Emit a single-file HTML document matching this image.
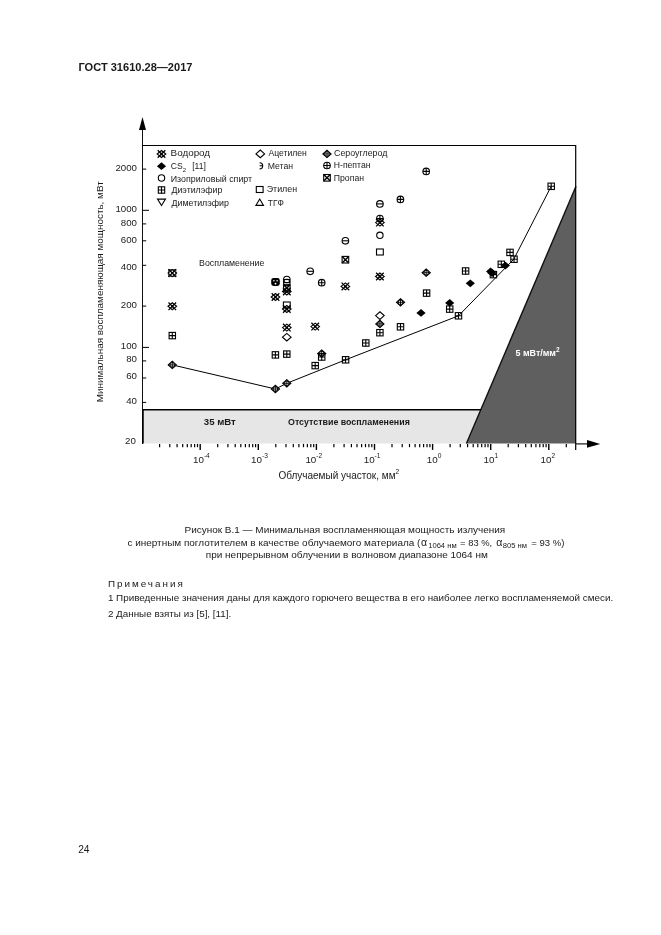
<!DOCTYPE html>
<html lang="ru"><head><meta charset="utf-8"><title>ГОСТ 31610.28—2017</title>
<style>
html,body{margin:0;padding:0;background:#fff}
body{width:661px;height:935px;overflow:hidden;position:relative;font-family:"Liberation Sans",sans-serif;color:#1a1a1a}
svg{position:absolute;left:0;top:0;display:block}
svg text{font-family:"Liberation Sans",sans-serif;fill:#1a1a1a}
.t{font-size:9.7px}
.lg{font-size:8.75px}
.bd{font-size:9.97px}
.nt{font-size:9.85px}
</style></head><body>
<svg width="661" height="935" viewBox="0 0 661 935">
<text x="78.5" y="70.6" font-size="11.05" font-weight="bold" fill="#111">ГОСТ 31610.28—2017</text>
<rect x="143" y="410" width="340" height="33.5" fill="#e6e6e6"/>
<path d="M466.4 443.5L576 186.3L576 443.5Z" fill="#5f5f5f"/>
<path d="M466.4 443.5L576 186.3" stroke="#111" stroke-width="1.4" fill="none"/>
<path d="M142 409.8L481 409.8" stroke="#000" stroke-width="1.6" fill="none"/>
<path d="M142.5 130L142.5 444" stroke="#111" stroke-width="1" fill="none"/>
<path d="M142.9 409L142.9 443.6" stroke="#000" stroke-width="1.7" fill="none"/>
<path d="M142.5 117L139 130L146 130Z" fill="#000"/>
<path d="M142.5 145.5L575.7 145.5L575.7 450" stroke="#000" stroke-width="1.2" fill="none"/>
<path d="M576 443.9L588 443.9" stroke="#000" stroke-width="1.1" fill="none"/>
<path d="M600.2 443.9L587 440L587 447.8Z" fill="#000"/>
<path d="M142.5 169.1L146.2 169.1" stroke="#000" stroke-width="1" fill="none"/><text class="t" x="137" y="170.6" text-anchor="end">2000</text>
<path d="M142.5 210.3L149 210.3" stroke="#000" stroke-width="1" fill="none"/><text class="t" x="137" y="212.3" text-anchor="end">1000</text>
<path d="M142.5 223.9L146.2 223.9" stroke="#000" stroke-width="1" fill="none"/><text class="t" x="137" y="226.3" text-anchor="end">800</text>
<path d="M142.5 240.8L146.2 240.8" stroke="#000" stroke-width="1" fill="none"/><text class="t" x="137" y="242.5" text-anchor="end">600</text>
<path d="M142.5 265.3L146.2 265.3" stroke="#000" stroke-width="1" fill="none"/><text class="t" x="137" y="269.6" text-anchor="end">400</text>
<path d="M142.5 306.1L146.2 306.1" stroke="#000" stroke-width="1" fill="none"/><text class="t" x="137" y="307.5" text-anchor="end">200</text>
<path d="M142.5 347.4L149 347.4" stroke="#000" stroke-width="1" fill="none"/><text class="t" x="137" y="348.6" text-anchor="end">100</text>
<path d="M142.5 360.9L146.2 360.9" stroke="#000" stroke-width="1" fill="none"/><text class="t" x="137" y="362.4" text-anchor="end">80</text>
<path d="M142.5 378.0L146.2 378.0" stroke="#000" stroke-width="1" fill="none"/><text class="t" x="137" y="379.3" text-anchor="end">60</text>
<path d="M142.5 402.4L146.2 402.4" stroke="#000" stroke-width="1" fill="none"/><text class="t" x="137" y="403.6" text-anchor="end">40</text>
<text class="t" x="135.9" y="444.3" text-anchor="end">20</text>
<path d="M159.6 443.9L159.6 447.2" stroke="#000" stroke-width="1.2" fill="none"/><path d="M169.8 443.9L169.8 447.2" stroke="#000" stroke-width="1.2" fill="none"/><path d="M177.1 443.9L177.1 447.2" stroke="#000" stroke-width="1.2" fill="none"/><path d="M182.7 443.9L182.7 447.2" stroke="#000" stroke-width="1.2" fill="none"/><path d="M187.3 443.9L187.3 447.2" stroke="#000" stroke-width="1.2" fill="none"/><path d="M191.2 443.9L191.2 447.2" stroke="#000" stroke-width="1.2" fill="none"/><path d="M194.6 443.9L194.6 447.2" stroke="#000" stroke-width="1.2" fill="none"/><path d="M197.5 443.9L197.5 447.2" stroke="#000" stroke-width="1.2" fill="none"/><path d="M200.2 443.9L200.2 449.9" stroke="#000" stroke-width="1.4" fill="none"/><path d="M217.7 443.9L217.7 447.2" stroke="#000" stroke-width="1.2" fill="none"/><path d="M227.9 443.9L227.9 447.2" stroke="#000" stroke-width="1.2" fill="none"/><path d="M235.2 443.9L235.2 447.2" stroke="#000" stroke-width="1.2" fill="none"/><path d="M240.8 443.9L240.8 447.2" stroke="#000" stroke-width="1.2" fill="none"/><path d="M245.4 443.9L245.4 447.2" stroke="#000" stroke-width="1.2" fill="none"/><path d="M249.3 443.9L249.3 447.2" stroke="#000" stroke-width="1.2" fill="none"/><path d="M252.7 443.9L252.7 447.2" stroke="#000" stroke-width="1.2" fill="none"/><path d="M255.6 443.9L255.6 447.2" stroke="#000" stroke-width="1.2" fill="none"/><path d="M258.3 443.9L258.3 449.9" stroke="#000" stroke-width="1.4" fill="none"/><path d="M275.8 443.9L275.8 447.2" stroke="#000" stroke-width="1.2" fill="none"/><path d="M286.0 443.9L286.0 447.2" stroke="#000" stroke-width="1.2" fill="none"/><path d="M293.3 443.9L293.3 447.2" stroke="#000" stroke-width="1.2" fill="none"/><path d="M298.9 443.9L298.9 447.2" stroke="#000" stroke-width="1.2" fill="none"/><path d="M303.5 443.9L303.5 447.2" stroke="#000" stroke-width="1.2" fill="none"/><path d="M307.4 443.9L307.4 447.2" stroke="#000" stroke-width="1.2" fill="none"/><path d="M310.8 443.9L310.8 447.2" stroke="#000" stroke-width="1.2" fill="none"/><path d="M313.7 443.9L313.7 447.2" stroke="#000" stroke-width="1.2" fill="none"/><path d="M316.4 443.9L316.4 449.9" stroke="#000" stroke-width="1.4" fill="none"/><path d="M333.9 443.9L333.9 447.2" stroke="#000" stroke-width="1.2" fill="none"/><path d="M344.1 443.9L344.1 447.2" stroke="#000" stroke-width="1.2" fill="none"/><path d="M351.4 443.9L351.4 447.2" stroke="#000" stroke-width="1.2" fill="none"/><path d="M357.0 443.9L357.0 447.2" stroke="#000" stroke-width="1.2" fill="none"/><path d="M361.6 443.9L361.6 447.2" stroke="#000" stroke-width="1.2" fill="none"/><path d="M365.5 443.9L365.5 447.2" stroke="#000" stroke-width="1.2" fill="none"/><path d="M368.9 443.9L368.9 447.2" stroke="#000" stroke-width="1.2" fill="none"/><path d="M371.8 443.9L371.8 447.2" stroke="#000" stroke-width="1.2" fill="none"/><path d="M374.5 443.9L374.5 449.9" stroke="#000" stroke-width="1.4" fill="none"/><path d="M392.0 443.9L392.0 447.2" stroke="#000" stroke-width="1.2" fill="none"/><path d="M402.2 443.9L402.2 447.2" stroke="#000" stroke-width="1.2" fill="none"/><path d="M409.5 443.9L409.5 447.2" stroke="#000" stroke-width="1.2" fill="none"/><path d="M415.1 443.9L415.1 447.2" stroke="#000" stroke-width="1.2" fill="none"/><path d="M419.7 443.9L419.7 447.2" stroke="#000" stroke-width="1.2" fill="none"/><path d="M423.6 443.9L423.6 447.2" stroke="#000" stroke-width="1.2" fill="none"/><path d="M427.0 443.9L427.0 447.2" stroke="#000" stroke-width="1.2" fill="none"/><path d="M429.9 443.9L429.9 447.2" stroke="#000" stroke-width="1.2" fill="none"/><path d="M432.6 443.9L432.6 449.9" stroke="#000" stroke-width="1.4" fill="none"/><path d="M450.1 443.9L450.1 447.2" stroke="#000" stroke-width="1.2" fill="none"/><path d="M460.3 443.9L460.3 447.2" stroke="#000" stroke-width="1.2" fill="none"/><path d="M467.6 443.9L467.6 447.2" stroke="#000" stroke-width="1.2" fill="none"/><path d="M473.2 443.9L473.2 447.2" stroke="#000" stroke-width="1.2" fill="none"/><path d="M477.8 443.9L477.8 447.2" stroke="#000" stroke-width="1.2" fill="none"/><path d="M481.7 443.9L481.7 447.2" stroke="#000" stroke-width="1.2" fill="none"/><path d="M485.1 443.9L485.1 447.2" stroke="#000" stroke-width="1.2" fill="none"/><path d="M488.0 443.9L488.0 447.2" stroke="#000" stroke-width="1.2" fill="none"/><path d="M490.7 443.9L490.7 449.9" stroke="#000" stroke-width="1.4" fill="none"/><path d="M508.2 443.9L508.2 447.2" stroke="#000" stroke-width="1.2" fill="none"/><path d="M518.4 443.9L518.4 447.2" stroke="#000" stroke-width="1.2" fill="none"/><path d="M525.7 443.9L525.7 447.2" stroke="#000" stroke-width="1.2" fill="none"/><path d="M531.3 443.9L531.3 447.2" stroke="#000" stroke-width="1.2" fill="none"/><path d="M535.9 443.9L535.9 447.2" stroke="#000" stroke-width="1.2" fill="none"/><path d="M539.8 443.9L539.8 447.2" stroke="#000" stroke-width="1.2" fill="none"/><path d="M543.2 443.9L543.2 447.2" stroke="#000" stroke-width="1.2" fill="none"/><path d="M546.1 443.9L546.1 447.2" stroke="#000" stroke-width="1.2" fill="none"/><path d="M548.8 443.9L548.8 449.9" stroke="#000" stroke-width="1.4" fill="none"/><path d="M566.3 443.9L566.3 447.2" stroke="#000" stroke-width="1.2" fill="none"/>
<text x="201.4" y="463.1" font-size="9.8" text-anchor="middle">10<tspan font-size="6.6" dy="-4.9">-4</tspan></text>
<text x="259.5" y="463.1" font-size="9.8" text-anchor="middle">10<tspan font-size="6.6" dy="-4.9">-3</tspan></text>
<text x="313.8" y="463.1" font-size="9.8" text-anchor="middle">10<tspan font-size="6.6" dy="-4.9">-2</tspan></text>
<text x="372.1" y="463.1" font-size="9.8" text-anchor="middle">10<tspan font-size="6.6" dy="-4.9">-1</tspan></text>
<text x="434.1" y="463.1" font-size="9.8" text-anchor="middle">10<tspan font-size="6.6" dy="-4.9">0</tspan></text>
<text x="490.9" y="463.1" font-size="9.8" text-anchor="middle">10<tspan font-size="6.6" dy="-4.9">1</tspan></text>
<text x="547.8" y="463.1" font-size="9.8" text-anchor="middle">10<tspan font-size="6.6" dy="-4.9">2</tspan></text>
<text x="338.8" y="478.8" font-size="10" text-anchor="middle">Облучаемый участок, мм<tspan font-size="6.6" dy="-4.8">2</tspan></text>
<text transform="translate(102.5 402.3) rotate(-90)" font-size="9.92">Минимальная воспламеняющая мощность, мВт</text>
<text x="199.1" y="266" font-size="8.8">Воспламенение</text>
<text x="203.8" y="424.5" font-size="9.6" font-weight="bold" fill="#111">35 мВт</text>
<text x="288" y="424.5" font-size="8.85" font-weight="bold" fill="#111">Отсутствие воспламенения</text>
<text x="515.5" y="356" font-size="8.95" font-weight="bold" style="fill:#fff">5 мВт/мм<tspan font-size="6.5" dy="-4">2</tspan></text>
<path d="M172.3 364.9L275.4 389L286.8 383.3L345.6 359.8L458.5 315.8L513.8 259.2L551.2 186.3" stroke="#000" stroke-width="1" fill="none"/>
<path d="M168.5 269.3L176.1 276.9M168.5 276.9L176.1 269.3" stroke="#000" stroke-width="1.25" fill="none"/><path d="M168.0 273.1L172.3 269.6L176.6 273.1L172.3 276.6Z" stroke="#000" stroke-width="1.1" fill="none"/><circle cx="172.3" cy="273.1" r="1.2" fill="#000"/>
<rect x="168.7" y="269.5" width="7.2" height="7.2" stroke="#000" stroke-width="0.7" fill="none"/>
<path d="M168.5 302.5L176.1 310.1M168.5 310.1L176.1 302.5" stroke="#000" stroke-width="1.25" fill="none"/><path d="M168.0 306.3L172.3 302.8L176.6 306.3L172.3 309.8Z" stroke="#000" stroke-width="1.1" fill="none"/><circle cx="172.3" cy="306.3" r="1.2" fill="#000"/>
<rect x="169.1" y="332.4" width="6.4" height="6.4" stroke="#000" stroke-width="1.1" fill="none" fill="#fff"/><path d="M169.1 335.6L175.5 335.6M172.3 332.4L172.3 338.8" stroke="#000" stroke-width="1.1" fill="none"/>
<path d="M168.2 364.9L172.3 361.2L176.4 364.9L172.3 368.6Z" stroke="#000" stroke-width="1.05" fill="#fff"/><circle cx="172.3" cy="364.9" r="2.3" stroke="#000" stroke-width="0.9" fill="none"/><path d="M172.3 361.2L172.3 368.6M168.2 364.9L176.4 364.9" stroke="#000" stroke-width="0.9" fill="none"/>
<rect x="271.2" y="278.1" width="8.6" height="7.8" rx="2.4" fill="#000"/><circle cx="273.9" cy="280.8" r="0.75" fill="#fff"/><circle cx="277.1" cy="280.8" r="0.75" fill="#fff"/><circle cx="275.5" cy="283.7" r="0.9" fill="#fff"/>
<path d="M271.7 293.2L279.3 300.8M271.7 300.8L279.3 293.2" stroke="#000" stroke-width="1.25" fill="none"/><path d="M271.2 297.0L275.5 293.5L279.8 297.0L275.5 300.5Z" stroke="#000" stroke-width="1.1" fill="none"/><circle cx="275.5" cy="297.0" r="1.2" fill="#000"/>
<rect x="272.2" y="351.7" width="6.4" height="6.4" stroke="#000" stroke-width="1.1" fill="none" fill="#fff"/><path d="M272.2 354.9L278.6 354.9M275.4 351.7L275.4 358.1" stroke="#000" stroke-width="1.1" fill="none"/>
<path d="M271.3 389.0L275.4 385.3L279.5 389.0L275.4 392.7Z" stroke="#000" stroke-width="1.05" fill="#fff"/><circle cx="275.4" cy="389.0" r="2.3" stroke="#000" stroke-width="0.9" fill="none"/><path d="M275.4 385.3L275.4 392.7M271.3 389.0L279.5 389.0" stroke="#000" stroke-width="0.9" fill="none"/>
<circle cx="286.8" cy="279.5" r="3.3" stroke="#000" stroke-width="1.1" fill="none" fill="#fff"/><path d="M283.5 279.5L290.1 279.5" stroke="#000" stroke-width="1.1" fill="none"/>
<circle cx="286.8" cy="282.6" r="3.3" stroke="#000" stroke-width="1.1" fill="none" fill="#fff"/><path d="M283.5 282.6L290.1 282.6" stroke="#000" stroke-width="1.1" fill="none"/>
<rect x="283.5" y="284.7" width="6.6" height="6.6" stroke="#000" stroke-width="1.1" fill="none" fill="#fff"/><path d="M283.5 284.7L290.1 291.3M283.5 291.3L290.1 284.7" stroke="#000" stroke-width="1.4" fill="none"/>
<path d="M283.0 287.7L290.6 295.3M283.0 295.3L290.6 287.7" stroke="#000" stroke-width="1.25" fill="none"/><path d="M282.5 291.5L286.8 288.0L291.1 291.5L286.8 295.0Z" stroke="#000" stroke-width="1.1" fill="none"/><circle cx="286.8" cy="291.5" r="1.2" fill="#000"/>
<rect x="283.4" y="302.0" width="6.8" height="6.0" stroke="#000" stroke-width="1.1" fill="none" fill="#fff"/>
<path d="M283.0 305.2L290.6 312.8M283.0 312.8L290.6 305.2" stroke="#000" stroke-width="1.25" fill="none"/><path d="M282.5 309.0L286.8 305.5L291.1 309.0L286.8 312.5Z" stroke="#000" stroke-width="1.1" fill="none"/><circle cx="286.8" cy="309.0" r="1.2" fill="#000"/>
<path d="M283.0 323.8L290.6 331.4M283.0 331.4L290.6 323.8" stroke="#000" stroke-width="1.25" fill="none"/><path d="M282.5 327.6L286.8 324.1L291.1 327.6L286.8 331.1Z" stroke="#000" stroke-width="1.1" fill="none"/><circle cx="286.8" cy="327.6" r="1.2" fill="#000"/>
<path d="M282.5 337.2L286.8 333.4L291.1 337.2L286.8 341.0Z" stroke="#000" stroke-width="1.1" fill="none" fill="#fff"/>
<rect x="283.6" y="350.9" width="6.4" height="6.4" stroke="#000" stroke-width="1.1" fill="none" fill="#fff"/><path d="M283.6 354.1L290.0 354.1M286.8 350.9L286.8 357.3" stroke="#000" stroke-width="1.1" fill="none"/>
<path d="M282.7 383.3L286.8 379.6L290.9 383.3L286.8 387.0Z" stroke="#000" stroke-width="1.05" fill="#fff"/><circle cx="286.8" cy="383.3" r="2.3" stroke="#000" stroke-width="0.9" fill="none"/><path d="M286.8 379.6L286.8 387.0M282.7 383.3L290.9 383.3" stroke="#000" stroke-width="0.9" fill="none"/>
<circle cx="310.2" cy="271.3" r="3.3" stroke="#000" stroke-width="1.1" fill="none" fill="#fff"/><path d="M306.9 271.3L313.5 271.3" stroke="#000" stroke-width="1.1" fill="none"/>
<circle cx="321.7" cy="282.7" r="3.3" stroke="#000" stroke-width="1.1" fill="none" fill="#fff"/><path d="M318.4 282.7L325.0 282.7M321.7 279.4L321.7 286.0" stroke="#000" stroke-width="1.1" fill="none"/>
<path d="M311.4 322.8L319.0 330.4M311.4 330.4L319.0 322.8" stroke="#000" stroke-width="1.25" fill="none"/><path d="M310.9 326.6L315.2 323.1L319.5 326.6L315.2 330.1Z" stroke="#000" stroke-width="1.1" fill="none"/><circle cx="315.2" cy="326.6" r="1.2" fill="#000"/>
<path d="M317.6 353.6L321.7 349.9L325.8 353.6L321.7 357.3Z" stroke="#000" stroke-width="1.05" fill="#fff"/><circle cx="321.7" cy="353.6" r="2.3" stroke="#000" stroke-width="0.9" fill="none"/><path d="M321.7 349.9L321.7 357.3M317.6 353.6L325.8 353.6" stroke="#000" stroke-width="0.9" fill="none"/>
<rect x="318.5" y="353.8" width="6.4" height="6.4" stroke="#000" stroke-width="1.1" fill="none" fill="#fff"/><path d="M318.5 357.0L324.9 357.0M321.7 353.8L321.7 360.2" stroke="#000" stroke-width="1.1" fill="none"/>
<rect x="312.0" y="362.4" width="6.4" height="6.4" stroke="#000" stroke-width="1.1" fill="none" fill="#fff"/><path d="M312.0 365.6L318.4 365.6M315.2 362.4L315.2 368.8" stroke="#000" stroke-width="1.1" fill="none"/>
<circle cx="345.4" cy="240.8" r="3.3" stroke="#000" stroke-width="1.1" fill="none" fill="#fff"/><path d="M342.1 240.8L348.7 240.8" stroke="#000" stroke-width="1.1" fill="none"/>
<rect x="342.1" y="256.4" width="6.6" height="6.6" stroke="#000" stroke-width="1.1" fill="none" fill="#fff"/><path d="M342.1 256.4L348.7 263.0M342.1 263.0L348.7 256.4" stroke="#000" stroke-width="1.4" fill="none"/>
<path d="M341.6 282.6L349.2 290.2M341.6 290.2L349.2 282.6" stroke="#000" stroke-width="1.25" fill="none"/><path d="M341.1 286.4L345.4 282.9L349.7 286.4L345.4 289.9Z" stroke="#000" stroke-width="1.1" fill="none"/><circle cx="345.4" cy="286.4" r="1.2" fill="#000"/>
<rect x="342.4" y="356.6" width="6.4" height="6.4" stroke="#000" stroke-width="1.1" fill="none" fill="#fff"/><path d="M342.4 359.8L348.8 359.8M345.6 356.6L345.6 363.0" stroke="#000" stroke-width="1.1" fill="none"/>
<rect x="362.6" y="339.8" width="6.4" height="6.4" stroke="#000" stroke-width="1.1" fill="none" fill="#fff"/><path d="M362.6 343.0L369.0 343.0M365.8 339.8L365.8 346.2" stroke="#000" stroke-width="1.1" fill="none"/>
<circle cx="379.9" cy="203.9" r="3.3" stroke="#000" stroke-width="1.1" fill="none" fill="#fff"/><path d="M376.6 203.9L383.2 203.9" stroke="#000" stroke-width="1.1" fill="none"/>
<path d="M376.1 218.8L383.7 226.4M376.1 226.4L383.7 218.8" stroke="#000" stroke-width="1.25" fill="none"/><path d="M375.6 222.6L379.9 219.1L384.2 222.6L379.9 226.1Z" stroke="#000" stroke-width="1.1" fill="none"/><circle cx="379.9" cy="222.6" r="1.2" fill="#000"/>
<circle cx="379.9" cy="218.6" r="3.3" stroke="#000" stroke-width="1.1" fill="none" fill="#fff"/><path d="M376.6 218.6L383.2 218.6M379.9 215.3L379.9 221.9" stroke="#000" stroke-width="1.1" fill="none"/>
<circle cx="379.9" cy="235.3" r="3.2" stroke="#000" stroke-width="1.1" fill="none" fill="#fff"/>
<rect x="376.5" y="249.0" width="6.8" height="6.0" stroke="#000" stroke-width="1.1" fill="none" fill="#fff"/>
<path d="M376.1 272.7L383.7 280.3M376.1 280.3L383.7 272.7" stroke="#000" stroke-width="1.25" fill="none"/><path d="M375.6 276.5L379.9 273.0L384.2 276.5L379.9 280.0Z" stroke="#000" stroke-width="1.1" fill="none"/><circle cx="379.9" cy="276.5" r="1.2" fill="#000"/>
<path d="M375.6 315.6L379.9 311.8L384.2 315.6L379.9 319.4Z" stroke="#000" stroke-width="1.1" fill="none" fill="#fff"/>
<path d="M375.8 323.9L379.9 320.2L384.0 323.9L379.9 327.6Z" stroke="#000" stroke-width="1.05" fill="#fff"/><circle cx="379.9" cy="323.9" r="2.3" stroke="#000" stroke-width="0.9" fill="none"/><path d="M379.9 320.2L379.9 327.6M375.8 323.9L384.0 323.9" stroke="#000" stroke-width="0.9" fill="none"/>
<rect x="376.7" y="329.5" width="6.4" height="6.4" stroke="#000" stroke-width="1.1" fill="none" fill="#fff"/><path d="M376.7 332.7L383.1 332.7M379.9 329.5L379.9 335.9" stroke="#000" stroke-width="1.1" fill="none"/>
<circle cx="400.4" cy="199.4" r="3.3" stroke="#000" stroke-width="1.1" fill="none" fill="#fff"/><path d="M397.1 199.4L403.7 199.4M400.4 196.1L400.4 202.7" stroke="#000" stroke-width="1.1" fill="none"/>
<path d="M396.4 302.3L400.5 298.6L404.6 302.3L400.5 306.0Z" stroke="#000" stroke-width="1.05" fill="#fff"/><circle cx="400.5" cy="302.3" r="2.3" stroke="#000" stroke-width="0.9" fill="none"/><path d="M400.5 298.6L400.5 306.0M396.4 302.3L404.6 302.3" stroke="#000" stroke-width="0.9" fill="none"/>
<rect x="397.3" y="323.6" width="6.4" height="6.4" stroke="#000" stroke-width="1.1" fill="none" fill="#fff"/><path d="M397.3 326.8L403.7 326.8M400.5 323.6L400.5 330.0" stroke="#000" stroke-width="1.1" fill="none"/>
<circle cx="426.2" cy="171.4" r="3.3" stroke="#000" stroke-width="1.1" fill="none" fill="#fff"/><path d="M422.9 171.4L429.5 171.4M426.2 168.1L426.2 174.7" stroke="#000" stroke-width="1.1" fill="none"/>
<path d="M422.1 272.7L426.2 269.0L430.3 272.7L426.2 276.4Z" stroke="#000" stroke-width="1.05" fill="#fff"/><circle cx="426.2" cy="272.7" r="2.3" stroke="#000" stroke-width="0.9" fill="none"/><path d="M426.2 269.0L426.2 276.4M422.1 272.7L430.3 272.7" stroke="#000" stroke-width="0.9" fill="none"/>
<rect x="423.4" y="289.9" width="6.4" height="6.4" stroke="#000" stroke-width="1.1" fill="none" fill="#fff"/><path d="M423.4 293.1L429.8 293.1M426.6 289.9L426.6 296.3" stroke="#000" stroke-width="1.1" fill="none"/>
<path d="M416.4 312.9L421.0 309.0L425.6 312.9L421.0 316.8Z" fill="#000"/>
<rect x="446.5" y="305.9" width="6.4" height="6.4" stroke="#000" stroke-width="1.1" fill="none" fill="#fff"/><path d="M446.5 309.1L452.9 309.1M449.7 305.9L449.7 312.3" stroke="#000" stroke-width="1.1" fill="none"/>
<path d="M445.1 302.9L449.7 299.0L454.3 302.9L449.7 306.8Z" fill="#000"/>
<rect x="455.3" y="312.6" width="6.4" height="6.4" stroke="#000" stroke-width="1.1" fill="none" fill="#fff"/><path d="M455.3 315.8L461.7 315.8M458.5 312.6L458.5 319.0" stroke="#000" stroke-width="1.1" fill="none"/>
<rect x="462.4" y="267.8" width="6.4" height="6.4" stroke="#000" stroke-width="1.1" fill="none" fill="#fff"/><path d="M462.4 271.0L468.8 271.0M465.6 267.8L465.6 274.2" stroke="#000" stroke-width="1.1" fill="none"/>
<path d="M465.7 283.3L470.3 279.4L474.9 283.3L470.3 287.2Z" fill="#000"/>
<rect x="490.2" y="271.4" width="6.4" height="6.4" stroke="#000" stroke-width="1.1" fill="none" fill="#fff"/><path d="M490.2 274.6L496.6 274.6M493.4 271.4L493.4 277.8" stroke="#000" stroke-width="1.1" fill="none"/>
<path d="M486.0 271.4L490.6 267.5L495.2 271.4L490.6 275.3Z" fill="#000"/>
<path d="M487.4 273.0L492.0 269.1L496.6 273.0L492.0 276.9Z" fill="#000"/>
<rect x="498.1" y="261.1" width="6.4" height="6.4" stroke="#000" stroke-width="1.1" fill="none" fill="#fff"/><path d="M498.1 264.3L504.5 264.3M501.3 261.1L501.3 267.5" stroke="#000" stroke-width="1.1" fill="none"/>
<path d="M500.8 265.6L505.4 261.7L510.0 265.6L505.4 269.5Z" fill="#000"/>
<rect x="506.8" y="249.2" width="6.4" height="6.4" stroke="#000" stroke-width="1.1" fill="none" fill="#fff"/><path d="M506.8 252.4L513.2 252.4M510.0 249.2L510.0 255.6" stroke="#000" stroke-width="1.1" fill="none"/>
<rect x="510.8" y="256.0" width="6.4" height="6.4" stroke="#000" stroke-width="1.1" fill="none" fill="#fff"/><path d="M510.8 259.2L517.2 259.2M514.0 256.0L514.0 262.4" stroke="#000" stroke-width="1.1" fill="none"/>
<rect x="548.0" y="183.1" width="6.4" height="6.4" stroke="#000" stroke-width="1.1" fill="none" fill="#fff"/><path d="M548.0 186.3L554.4 186.3M551.2 183.1L551.2 189.5" stroke="#000" stroke-width="1.1" fill="none"/>
<path d="M157.7 150.2L165.3 157.8M157.7 157.8L165.3 150.2" stroke="#000" stroke-width="1.25" fill="none"/><path d="M157.2 154.0L161.5 150.5L165.8 154.0L161.5 157.5Z" stroke="#000" stroke-width="1.1" fill="none"/><circle cx="161.5" cy="154.0" r="1.2" fill="#000"/><text x="170.6" y="155.9" font-size="9.85">Водород</text>
<path d="M156.9 166.2L161.5 162.3L166.1 166.2L161.5 170.1Z" fill="#000"/><text x="170.7" y="169.2" font-size="8.6">CS<tspan font-size="6" dy="2.3">2</tspan><tspan dy="-2.3" dx="3.8"> [11]</tspan></text>
<circle cx="161.5" cy="178.0" r="3.2" stroke="#000" stroke-width="1.1" fill="none" fill="#fff"/><text x="170.7" y="181.6" font-size="8.85">Изоприловый спирт</text>
<rect x="158.3" y="186.8" width="6.4" height="6.4" stroke="#000" stroke-width="1.1" fill="none" fill="#fff"/><path d="M158.3 190.0L164.7 190.0M161.5 186.8L161.5 193.2" stroke="#000" stroke-width="1.1" fill="none"/><text x="171.5" y="193.3" font-size="8.8">Диэтилэфир</text>
<path d="M157.5 199.1L165.5 199.1L161.5 205.5Z" stroke="#000" stroke-width="1.1" fill="none"/><text x="171.5" y="205.5" font-size="8.85">Диметилэфир</text>
<path d="M256.0 153.9L260.3 150.1L264.6 153.9L260.3 157.7Z" stroke="#000" stroke-width="1.1" fill="none" fill="#fff"/><text x="268.4" y="156.1" font-size="8.65">Ацетилен</text>
<path d="M259.6 162.7A3.1 3.1 0 0 1 259.6 168.9M259.6 165.8L262.6 165.8" stroke="#000" stroke-width="1.1" fill="none"/><text x="267.7" y="169" font-size="8.7">Метан</text>
<rect x="256.3" y="186.5" width="6.8" height="6.0" stroke="#000" stroke-width="1.1" fill="none" fill="#fff"/><text x="266.7" y="192" font-size="8.9">Этилен</text>
<path d="M255.9 205.4L263.5 205.4L259.7 199.0Z" stroke="#000" stroke-width="1.1" fill="none"/><text x="267.8" y="206.1" font-size="8.4">ТГФ</text>
<path d="M322.9 153.9L327.0 150.2L331.1 153.9L327.0 157.6Z" stroke="#000" stroke-width="1.05" fill="#fff"/><circle cx="327.0" cy="153.9" r="2.3" stroke="#000" stroke-width="0.9" fill="none"/><path d="M327.0 150.2L327.0 157.6M322.9 153.9L331.1 153.9" stroke="#000" stroke-width="0.9" fill="none"/><text x="334" y="156.1" font-size="8.85">Сероуглерод</text>
<circle cx="327.0" cy="165.5" r="3.3" stroke="#000" stroke-width="1.1" fill="none" fill="#fff"/><path d="M323.7 165.5L330.3 165.5M327.0 162.2L327.0 168.8" stroke="#000" stroke-width="1.1" fill="none"/><text x="333.8" y="168.4" font-size="8.65">Н-пептан</text>
<rect x="323.7" y="174.5" width="6.6" height="6.6" stroke="#000" stroke-width="1.1" fill="none" fill="#fff"/><path d="M323.7 174.5L330.3 181.1M323.7 181.1L330.3 174.5" stroke="#000" stroke-width="1.4" fill="none"/><text x="333.8" y="180.8" font-size="8.7">Пропан</text>
<text class="bd" x="344.9" y="532.6" text-anchor="middle">Рисунок В.1 — Минимальная воспламеняющая мощность излучения</text>
<text class="bd" x="420.4" y="545.6" text-anchor="end">с инертным поглотителем в качестве облучаемого материала (</text><text x="420.9" y="545.6" font-size="10.5">α</text><text x="428.2" y="547.8" font-size="7.6">1064 нм</text><text x="460.1" y="545.6" font-size="9.4">= 83 %,</text><text x="496.2" y="545.6" font-size="10.5">α</text><text x="502.8" y="547.8" font-size="7.6">805 нм</text><text x="531.3" y="545.6" font-size="9.5">= 93 %)</text>
<text class="bd" x="346.8" y="557.8" text-anchor="middle">при непрерывном облучении в волновом диапазоне 1064 нм</text>
<text class="nt" x="107.9" y="586.5" letter-spacing="2.0">Примечания</text>
<text class="nt" x="107.9" y="601">1 Приведенные значения даны для каждого горючего вещества в его наиболее легко воспламеняемой смеси.</text>
<text class="nt" x="107.9" y="616.9">2 Данные взяты из [5], [11].</text>
<text x="78.2" y="852.8" font-size="10.2">24</text>
</svg>
</body></html>
